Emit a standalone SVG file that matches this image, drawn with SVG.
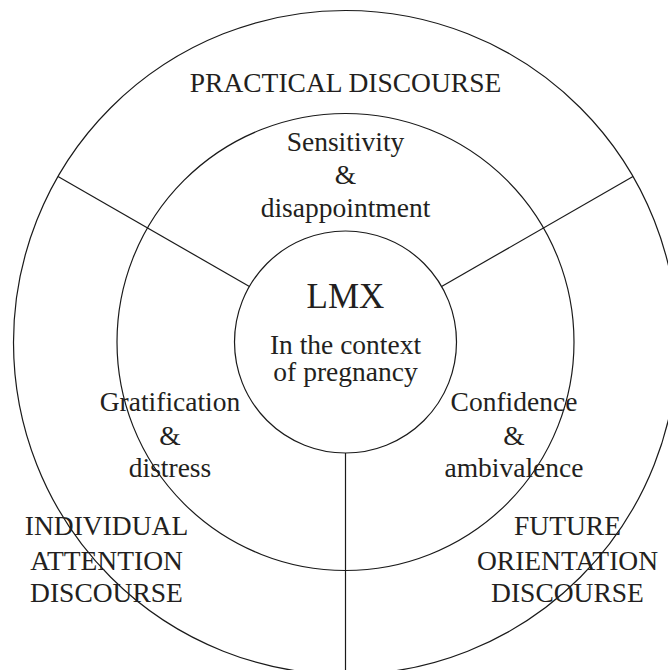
<svg xmlns="http://www.w3.org/2000/svg" width="668" height="670" viewBox="0 0 668 670">
  <style>
    .ring { fill: none; stroke: #1a1a1a; stroke-width: 1.2; }
    .div { stroke: #1a1a1a; stroke-width: 1.2; fill: none; }
    text { font-family: "Liberation Serif", "Times New Roman", serif; font-size: 27.5px; fill: #231f20; text-anchor: middle; }
    .big { font-size: 35px; }
  </style>
  <rect width="668" height="670" fill="#ffffff"/>

  <!-- concentric rings -->
  <g id="rings">
    <circle id="outer-ring" class="ring" cx="345.5" cy="342.5" r="332"/>
    <circle id="middle-ring" class="ring" cx="345.5" cy="342" r="228.5"/>
  </g>

  <!-- radial dividers between the three discourse sectors -->
  <g id="connectors">
    <line class="div" x1="249.4" y1="286.5" x2="58" y2="176.5"/>
    <line class="div" x1="441.6" y1="286.5" x2="633" y2="176.5"/>
    <line class="div" x1="345.5" y1="453" x2="345.5" y2="670"/>
  </g>

  <g id="core">
    <circle class="ring" cx="345.5" cy="342" r="111"/>
    <text class="big" x="345.5" y="307.5">LMX</text>
    <text x="345.5" y="353.5">In the context</text>
    <text x="345.5" y="381">of pregnancy</text>
  </g>

  <g id="practical-discourse">
    <text x="345.5" y="91.5">PRACTICAL DISCOURSE</text>
  </g>

  <g id="sensitivity">
    <text x="345.5" y="150.5">Sensitivity</text>
    <text x="345.5" y="183.5">&amp;</text>
    <text x="345.5" y="216.5">disappointment</text>
  </g>

  <g id="gratification">
    <text x="170" y="410.5">Gratification</text>
    <text x="170" y="445">&amp;</text>
    <text x="170" y="476.5">distress</text>
  </g>

  <g id="confidence">
    <text x="514" y="410.5">Confidence</text>
    <text x="514" y="445">&amp;</text>
    <text x="514" y="476.5">ambivalence</text>
  </g>

  <g id="individual-attention-discourse">
    <text x="106.5" y="535">INDIVIDUAL</text>
    <text x="106.5" y="570">ATTENTION</text>
    <text x="106.5" y="601.5">DISCOURSE</text>
  </g>

  <g id="future-orientation-discourse">
    <text x="567.5" y="535">FUTURE</text>
    <text x="567.5" y="570">ORIENTATION</text>
    <text x="567.5" y="601.5">DISCOURSE</text>
  </g>
</svg>
